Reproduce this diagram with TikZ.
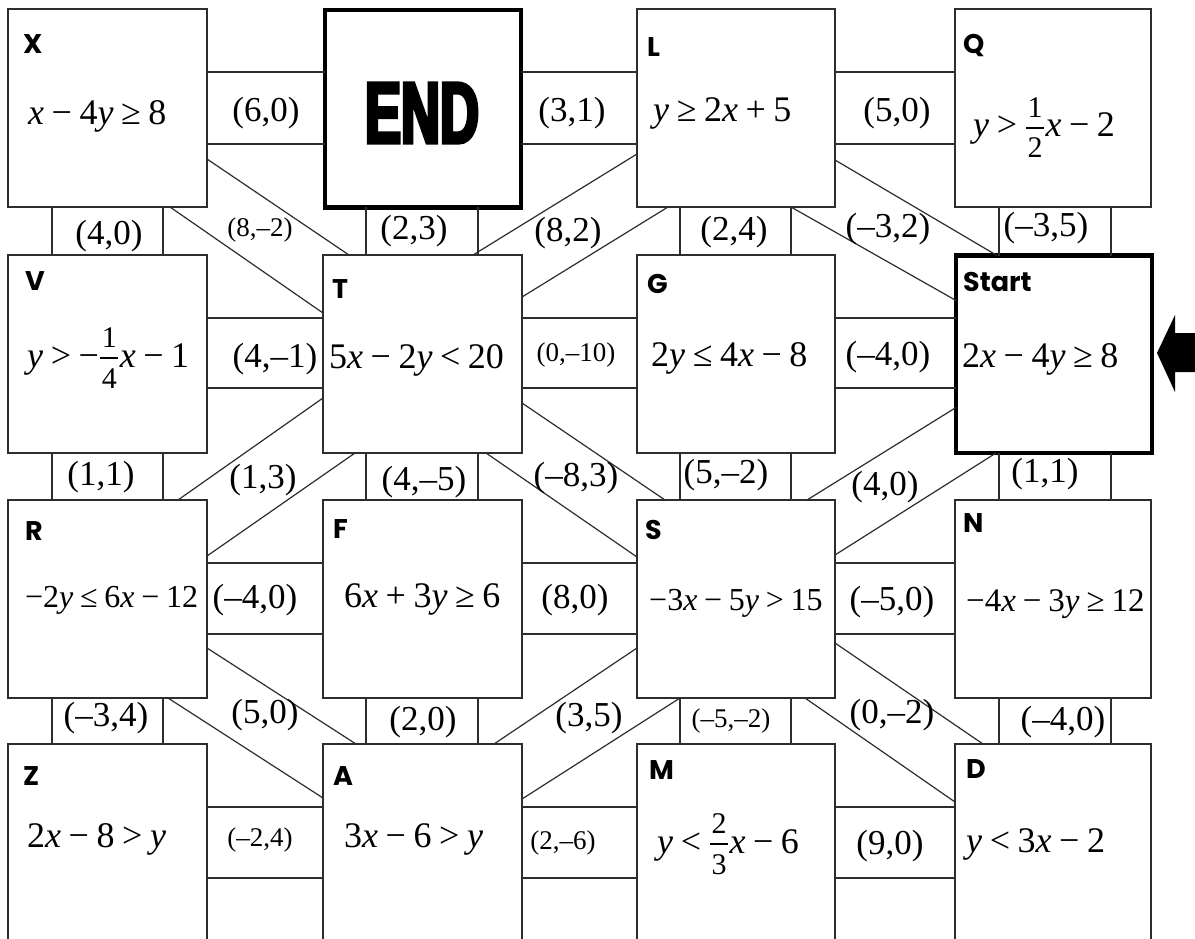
\documentclass[tikz,border=0pt]{standalone}
\usepackage{amsmath}
\usepackage{fontspec}
\setmainfont{Liberation Serif}
\newfontfamily\lblfont{Poppins}
\newfontfamily\endfont{Liberation Sans}[FakeStretch=0.62,FakeBold=4]
\usetikzlibrary{calc}
\definecolor{ln}{RGB}{45,45,45}
\newcommand{\vx}{\textit{x}}
\newcommand{\vy}{\textit{y}}
\newcommand{\opr}[1]{\hspace{0.21em}#1\hspace{0.21em}}
\newcommand{\fsz}{\fontsize{30}{30}\selectfont}
\newcommand{\fr}[2]{\kern0.04em\raisebox{-21pt}{\vbox{\hbox to 18pt{\hss\fsz #1\hss}\kern9.5pt\hrule height 1.3pt\kern9.5pt\hbox to 18pt{\hss\fsz #2\hss}}}\kern0.04em}
\newcommand{\vcor}[6]{\draw[conn] ([xshift=#3pt]#1.south west) -- ([xshift=#4pt]#2.north west); \draw[conn] ([xshift=#5pt]#1.south west) -- ([xshift=#6pt]#2.north west);}
\newcommand{\hcor}[6]{\draw[conn] ([yshift=-#3pt]#1.north east) -- ([yshift=-#4pt]#2.north west); \draw[conn] ([yshift=-#5pt]#1.north east) -- ([yshift=-#6pt]#2.north west);}
\begin{document}
\begin{tikzpicture}[x=1pt,y=-1pt,
  box/.style={draw=ln, line width=1.3pt, minimum width=199pt, minimum height=198pt, inner sep=0pt, outer sep=0pt, anchor=north west},
  thickbox/.style={draw=black, line width=4.5pt, minimum width=196pt, minimum height=197.5pt, inner sep=0pt, outer sep=0pt, anchor=north west},
  conn/.style={draw=ln, line width=1.2pt},
  lab/.style={inner sep=0pt, font=\fontsize{35}{35}\selectfont},
  slab/.style={inner sep=0pt, font=\fontsize{27}{27}\selectfont},
  fm/.style={anchor=base west, inner sep=0pt, font=\fontsize{36}{36}\selectfont},
  fms/.style={anchor=base west, inner sep=0pt, font=\fontsize{32}{32}\selectfont},
  bl/.style={anchor=west, inner sep=0pt, font=\lblfont\bfseries\fontsize{27}{27}\selectfont}]
\useasboundingbox (0,0) rectangle (1195,939);
\fill[white] (0,0) rectangle (1195,939);
\clip (0,0) rectangle (1195,939);
% boxes
\node[box] (X) at (8,9) {};
\node[thickbox] (END) at (325,10) {};
\node[box, minimum width=198pt] (L) at (637,9) {};
\node[box, minimum width=196pt] (Q) at (955,9) {};
\node[box] (V) at (8,255) {};
\node[box] (T) at (323,255) {};
\node[box, minimum width=198pt] (G) at (637,255) {};
\node[thickbox] (Start) at (956,255.5) {};
\node[box] (R) at (8,500) {};
\node[box] (F) at (323,500) {};
\node[box, minimum width=198pt] (S) at (637,500) {};
\node[box, minimum width=196pt] (N) at (955,500) {};
\node[box, minimum height=240pt] (Z) at (8,744) {};
\node[box, minimum height=240pt] (A) at (323,744) {};
\node[box, minimum width=198pt, minimum height=240pt] (M) at (637,744) {};
\node[box, minimum width=196pt, minimum height=240pt] (D) at (955,744) {};
% horizontal corridors
\hcor{X}{END}{63}{62}{135}{134}
\hcor{END}{L}{62}{63}{134}{135}
\hcor{L}{Q}{63}{63}{135}{135}
\hcor{V}{T}{63}{63}{133}{133}
\hcor{T}{G}{63}{63}{133}{133}
\hcor{G}{Start}{63}{62.5}{133}{132.5}
\hcor{R}{F}{63}{63}{134}{134}
\hcor{F}{S}{63}{63}{134}{134}
\hcor{S}{N}{63}{63}{134}{134}
\hcor{Z}{A}{63}{63}{134}{134}
\hcor{A}{M}{63}{63}{134}{134}
\hcor{M}{D}{63}{63}{134}{134}
% vertical corridors
\vcor{X}{V}{44}{44}{155}{155}
\vcor{END}{T}{41}{43}{153}{155}
\vcor{L}{G}{43}{43}{154}{154}
\vcor{Q}{Start}{44}{43}{156}{155}
\vcor{V}{R}{44}{44}{155}{155}
\vcor{T}{F}{43}{43}{155}{155}
\vcor{G}{S}{43}{43}{154}{154}
\vcor{Start}{N}{43}{44}{155}{156}
\vcor{R}{Z}{44}{44}{155}{155}
\vcor{F}{A}{43}{43}{155}{155}
\vcor{S}{M}{43}{43}{154}{154}
\vcor{N}{D}{44}{44}{156}{156}
% diagonal corridors
\draw[conn] ([yshift=-150pt]X.north east) -- ([xshift=26pt]T.north west);
\draw[conn] ([xshift=162pt]X.south west) -- ([yshift=-58pt]T.north west);
\draw[conn] ([yshift=-145pt]L.north west) -- ([xshift=150pt]T.north west);
\draw[conn] ([xshift=31pt]L.south west) -- ([yshift=-42pt]T.north east);
\draw[conn] ([yshift=-151pt]L.north east) -- ([xshift=41pt]Start.north west);
\draw[conn] ([xshift=154pt]L.south west) -- ([yshift=-45pt]Start.north west);
\draw[conn] ([yshift=-143pt]T.north west) -- ([xshift=170pt]R.north west);
\draw[conn] ([xshift=32pt]T.south west) -- ([yshift=-56pt]R.north east);
\draw[conn] ([yshift=-148pt]T.north east) -- ([xshift=28pt]S.north west);
\draw[conn] ([xshift=163pt]T.south west) -- ([yshift=-57pt]S.north west);
\draw[conn] ([yshift=-152pt]Start.north west) -- ([xshift=170pt]S.north west);
\draw[conn] ([xshift=40pt]Start.south west) -- ([yshift=-55pt]S.north east);
\draw[conn] ([yshift=-148pt]R.north east) -- ([xshift=33pt]A.north west);
\draw[conn] ([xshift=160pt]R.south west) -- ([yshift=-54pt]A.north west);
\draw[conn] ([yshift=-148pt]S.north west) -- ([xshift=171pt]A.north west);
\draw[conn] ([xshift=43pt]S.south west) -- ([yshift=-55pt]A.north east);
\draw[conn] ([yshift=-143pt]S.north east) -- ([xshift=28pt]D.north west);
\draw[conn] ([xshift=168pt]S.south west) -- ([yshift=-58pt]D.north west);
% box letters
\node[bl] (tX) at (23,44.5) {X};
\node[bl] (tL) at (647,47) {L};
\node[bl] (tQ) at (963,46) {Q};
\node[bl] (tV) at (25,281) {V};
\node[bl] (tT) at (332,289) {T};
\node[bl] (tG) at (647,284) {G};
\node[bl] (tStart) at (963,282) {Start};
\node[bl] (tR) at (25,531) {R};
\node[bl] (tF) at (333,529) {F};
\node[bl] (tS) at (645,530) {S};
\node[bl] (tN) at (963,523) {N};
\node[bl] (tZ) at (23,776) {Z};
\node[bl] (tA) at (333,776) {A};
\node[bl] (tM) at (649,770) {M};
\node[bl] (tD) at (966,769) {D};
\node[inner sep=0pt, font=\endfont\bfseries\fontsize{87}{87}\selectfont] (tEND) at (422,113) {END};
% formulas
\node[fm] (fX) at (28,125) {\vx\opr{−}4\vy\opr{≥}8};
\node[fm] (fL) at (653,122) {\vy\opr{≥}2\vx\opr{+}5};
\node[fm] (fQ) at (973,137) {\vy\opr{>}\fr{1}{2}\vx\opr{−}2};
\node[fm] (fV) at (27,367) {\vy\opr{>}−\fr{1}{4}\vx\opr{−}1};
\node[fm] (fT) at (329,368) {5\vx\opr{−}2\vy\opr{<}20};
\node[fm] (fG) at (651,366) {2\vy\opr{≤}4\vx\opr{−}8};
\node[fm] (fStart) at (962,367) {2\vx\opr{−}4\vy\opr{≥}8};
\node[fms] (fR) at (25,607) {−2\vy\opr{≤}6\vx\opr{−}12};
\node[fm] (fF) at (344,607) {6\vx\opr{+}3\vy\opr{≥}6};
\node[fms] (fS) at (649,610) {−3\vx\opr{−}5\vy\opr{>}15};
\node[fms, font=\fontsize{33}{33}\selectfont] (fN) at (966,611) {−4\vx\opr{−}3\vy\opr{≥}12};
\node[fm] (fZ) at (27,847) {2\vx\opr{−}8\opr{>}\vy};
\node[fm] (fA) at (344,847) {3\vx\opr{−}6\opr{>}\vy};
\node[fm] (fM) at (657,853) {\vy\opr{<}\fr{2}{3}\vx\opr{−}6};
\node[fm] (fD) at (966,852) {\vy\opr{<}3\vx\opr{−}2};
% corridor labels
\node[lab] (c1) at (266,113) {(6,0)};
\node[lab] (c2) at (572,113) {(3,1)};
\node[lab] (c3) at (897,113) {(5,0)};
\node[lab] (c4) at (109,236) {(4,0)};
\node[slab] (c5) at (260,230) {(8,–2)};
\node[lab] (c6) at (414,231) {(2,3)};
\node[lab] (c7) at (568,233) {(8,2)};
\node[lab] (c8) at (734,232) {(2,4)};
\node[lab] (c9) at (888,229) {(–3,2)};
\node[lab] (c10) at (1046,228) {(–3,5)};
\node[lab] (c11) at (275,359) {(4,–1)};
\node[slab] (c12) at (576,355) {(0,–10)};
\node[lab] (c13) at (888,357) {(–4,0)};
\node[lab] (c14) at (101,477) {(1,1)};
\node[lab] (c15) at (263,480) {(1,3)};
\node[lab] (c16) at (424,482) {(4,–5)};
\node[lab] (c17) at (576,478) {(–8,3)};
\node[lab] (c18) at (726,475) {(5,–2)};
\node[lab] (c19) at (885,487) {(4,0)};
\node[lab] (c20) at (1045,474) {(1,1)};
\node[lab] (c21) at (255,600) {(–4,0)};
\node[lab] (c22) at (575,600) {(8,0)};
\node[lab] (c23) at (892,602) {(–5,0)};
\node[lab] (c24) at (106,718) {(–3,4)};
\node[lab] (c25) at (265,715) {(5,0)};
\node[lab] (c26) at (423,722) {(2,0)};
\node[lab] (c27) at (589,718) {(3,5)};
\node[slab] (c28) at (731,721) {(–5,–2)};
\node[lab] (c29) at (892,715) {(0,–2)};
\node[lab] (c30) at (1063,722) {(–4,0)};
\node[slab] (c31) at (260,840) {(–2,4)};
\node[slab] (c32) at (563,843) {(2,–6)};
\node[lab] (c33) at (890,846) {(9,0)};
% entry arrow
\fill[black] (1157,353) -- (1175,315) -- (1175,333) -- (1200,333) -- (1200,372) -- (1175,372) -- (1175,392) -- cycle;
\end{tikzpicture}
\end{document}
